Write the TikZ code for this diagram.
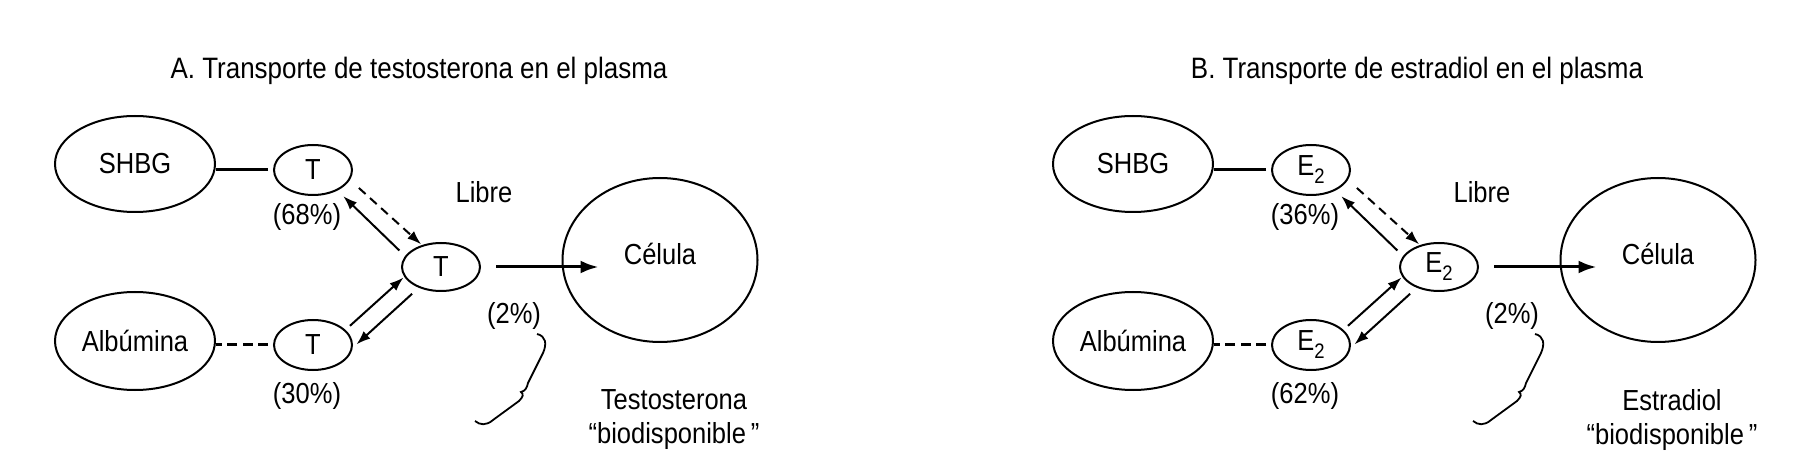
\documentclass[tikz,border=0pt]{standalone}
\usepackage{fontspec}
\setmainfont{Liberation Sans}[FakeStretch=0.88]
\usetikzlibrary{shapes.geometric,arrows.meta,calc}
\newcommand{\estr}{E\raisebox{-8pt}{\fontsize{21}{21}\selectfont 2}}
% #1 panel, #2 shift, #3 title, #4 hormone, #5 SHBG %, #6 albumin %, #7 name
\newcommand{\panel}[7]{%
\begin{scope}[xshift=#2]
\node[heading] (title#1) at (419,71) {#3};
\node[oval,minimum width=160pt,minimum height=96pt] (shbg#1) at (135,164) {SHBG};
\node[oval,minimum width=160pt,minimum height=98pt] (alb#1) at (135,341) {Albúmina};
\node[oval,minimum width=78pt,minimum height=50pt] (up#1) at (313,170) {#4};
\node[oval,minimum width=78pt,minimum height=50pt] (low#1) at (313,345) {#4};
\node[oval,minimum width=78pt,minimum height=48pt] (free#1) at (441,267) {#4};
\node[oval,minimum width=195pt,minimum height=164pt,text depth=13pt] (cell#1) at (660,260) {Célula};
\node (uppct#1) at (307,217) {(#5\%)};
\node (lowpct#1) at (307,396) {(#6\%)};
\node (libre#1) at (484,192) {Libre};
\node (pct#1) at (514,316) {(2\%)};
\node[align=center] (bio#1) at (674,420) {#7\\“biodisponible\,”};
\draw[link,shorten <=5pt] (up#1.west) -- (up#1.west -| shbg#1.east);
\draw[link,dash pattern=on 10pt off 5.5pt,shorten <=5pt] (low#1.west) -- (low#1.west -| alb#1.east);
\draw[swap,dash pattern=on 9pt off 6pt,shorten <=12pt,shorten >=1pt] (up#1.-15) -- (free#1.131);
\draw[swap,shorten <=8pt,shorten >=8pt] (free#1.163) -- (up#1.-40);
\draw[swap,shorten <=6pt,shorten >=1pt] (low#1.25) -- (free#1.195);
\draw[swap,shorten <=9pt,shorten >=5pt] (free#1.223) -- (low#1.-4);
\draw[intake,shorten <=15pt,shorten >=-37pt] (free#1.east) -- (free#1.east -| cell#1.west);
% brace under (2%)
\draw[line width=1.8pt] (537,334) .. controls (546,336) and (547,344) .. (543,353)
  -- (528,383) .. controls (527,388) and (525,391) .. (521,392)
  .. controls (524,394) and (523,397) .. (519,401)
  -- (493,420) .. controls (486,426) and (480,425) .. (475,421);
\end{scope}}

\begin{document}
\begin{tikzpicture}[x=1pt,y=-1pt,font=\fontsize{29}{34}\selectfont,
  heading/.style={font=\fontsize{29.5}{34}\selectfont},
  oval/.style={ellipse,draw,line width=2pt,inner sep=0pt},
  link/.style={line width=3pt},
  swap/.style={-{Latex[length=14pt,width=10pt]},line width=2pt},
  intake/.style={-{Latex[length=18pt,width=13pt]},line width=3pt},
]
\path[fill=white,use as bounding box] (0,0) rectangle (1800,470);
\panel{A}{0}{A. Transporte de testosterona en el plasma}{T}{68}{30}{Testosterona}
\panel{B}{998}{B. Transporte de estradiol en el plasma}{\estr}{36}{62}{Estradiol}
\end{tikzpicture}
\end{document}
